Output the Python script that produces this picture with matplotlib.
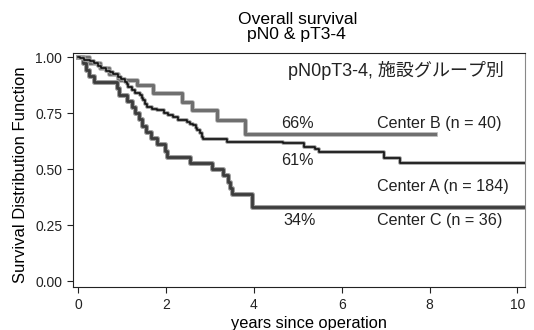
import matplotlib
matplotlib.use("Agg")
import matplotlib.pyplot as plt
import matplotlib.patheffects as pe

plt.rcParams['font.family'] = ['Liberation Sans', 'Noto Sans CJK JP', 'DejaVu Sans']

# Kaplan-Meier step curves: event times (years) and survival after each event
a_times = [0, 0.04, 0.12, 0.27, 0.35, 0.45, 0.52, 0.62, 0.72, 0.80, 0.91, 0.98,
           1.06, 1.10, 1.14, 1.22, 1.30, 1.41, 1.45, 1.48, 1.52, 1.56, 1.68,
           1.79, 1.94, 2.05, 2.16, 2.28, 2.47, 2.55, 2.62, 2.67, 2.70, 2.76,
           2.81, 2.85, 3.38, 4.67, 5.13, 5.39, 5.47, 6.95, 7.33, 10.3]
a_surv = [1.0, 0.995, 0.989, 0.983, 0.973, 0.962, 0.951, 0.940, 0.934, 0.923,
          0.912, 0.900, 0.890, 0.878, 0.867, 0.853, 0.842, 0.830, 0.819, 0.808,
          0.792, 0.778, 0.770, 0.763, 0.749, 0.740, 0.733, 0.719, 0.711, 0.703,
          0.696, 0.685, 0.674, 0.660, 0.644, 0.634, 0.622, 0.615, 0.600, 0.592,
          0.577, 0.548, 0.528, 0.528]

b_times = [0, 0.25, 0.50, 0.70, 0.90, 1.33, 1.71, 2.35, 2.58, 3.15, 3.80, 8.12]
b_surv = [1.0, 0.975, 0.950, 0.925, 0.897, 0.875, 0.838, 0.800, 0.763, 0.719,
          0.659, 0.659]

c_times = [0, 0.10, 0.17, 0.25, 0.36, 0.88, 0.92, 1.10, 1.22, 1.30, 1.38, 1.45,
           1.55, 1.65, 1.80, 1.97, 2.03, 2.54, 3.04, 3.30, 3.40, 3.46, 3.50,
           3.95, 10.3]
c_surv = [1.0, 0.972, 0.944, 0.917, 0.889, 0.861, 0.833, 0.806, 0.778, 0.750,
          0.722, 0.694, 0.667, 0.639, 0.611, 0.583, 0.556, 0.528, 0.500, 0.472,
          0.444, 0.417, 0.389, 0.333, 0.333]

labels = ['Center A (n = 184)', 'Center B (n = 40)', 'Center C (n = 36)']
pct_labels = ['61%', '66%', '34%']

fig = plt.figure(figsize=(5.34, 3.30), dpi=100)
ax = fig.add_axes([0.136, 0.129, 0.847, 0.711])


def halo(width, color):
    return [pe.Stroke(linewidth=width, foreground=color), pe.Normal()]


ax.step(b_times, b_surv, where='post', color='#6f6f6f', lw=2.2,
        path_effects=halo(3.4, '#b5b5b5'), zorder=2)
ax.step(c_times, c_surv, where='post', color='#3c3c3c', lw=2.0,
        path_effects=halo(3.6, '#a0a0a0'), zorder=3)
ax.step(a_times, a_surv, where='post', color='#111111', lw=1.2,
        path_effects=halo(2.6, '#9a9a9a'), zorder=4)

fs = 11.6
ink = '#222222'
ax.text(4.62, 0.704, pct_labels[1], fontsize=fs, va='center', color=ink)
ax.text(6.80, 0.704, labels[1], fontsize=fs, va='center', color=ink)
ax.text(4.62, 0.54, pct_labels[0], fontsize=fs, va='center', color=ink)
ax.text(6.80, 0.421, labels[0], fontsize=fs, va='center', color=ink)
ax.text(4.66, 0.272, pct_labels[2], fontsize=fs, va='center', color=ink)
ax.text(6.80, 0.272, labels[2], fontsize=fs, va='center', color=ink)
ax.text(4.78, 0.94, 'pN0pT3-4, 施設グループ別', fontsize=13, va='center',
        ha='left', color=ink)

ax.set_xlim(-0.13, 10.17)
ax.set_ylim(-0.027, 1.019)
ax.set_xticks([0, 2, 4, 6, 8, 10])
ax.set_yticks([0, 0.25, 0.5, 0.75, 1.0])
ax.set_yticklabels(['0.00', '0.25', '0.50', '0.75', '1.00'])
ax.tick_params(direction='out', length=4, width=0.8, labelsize=10,
               colors=ink)
for side in ['left', 'bottom', 'top']:
    ax.spines[side].set_color(ink)
ax.spines['right'].set_color('#888888')

ax.set_xlabel('years since operation', fontsize=11.8)
ax.xaxis.set_label_coords(0.522, -0.122)
ax.set_ylabel('Survival Distribution Function', fontsize=12)
ax.yaxis.set_label_coords(-0.098, 0.48)

fig.text(0.558, 0.94, 'Overall survival', fontsize=12.6, ha='center', va='center')
fig.text(0.556, 0.894, 'pN0 & pT3-4', fontsize=12.6, ha='center', va='center')

fig.savefig('out.png', dpi=100)
